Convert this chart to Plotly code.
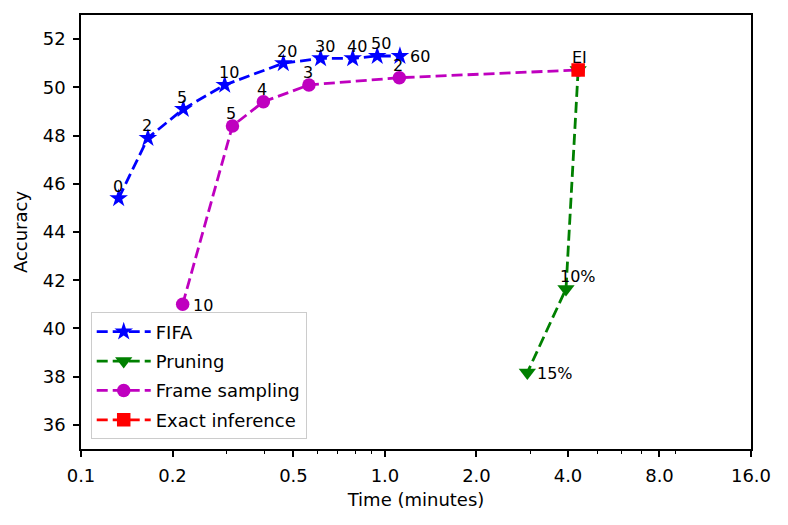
import numpy as np
import plotly.graph_objects as go

# FIFA: time (min) vs accuracy, labelled by setting
fifa_time = [0.133, 0.166, 0.217, 0.297, 0.463, 0.614, 0.783, 0.943, 1.12]
fifa_acc = [45.4, 47.9, 49.1, 50.1, 51.0, 51.2, 51.2, 51.3, 51.3]
fifa_labels = ["0", "2", "5", "10", "20", "30", "40", "50", "60"]

# frame sampling
frame_time = [0.216, 0.315, 0.398, 0.562, 1.115]
frame_acc = [41.0, 48.4, 49.4, 50.1, 50.4]
frame_labels = ["10", "5", "4", "3", "2"]

# pruning
prune_time = [3.94, 2.94]
prune_acc = [41.64, 38.17]
prune_labels = ["10%", "15%"]

# exact inference
ei_time = 4.32
ei_acc = 50.72

x_ticks = [0.1, 0.2, 0.5, 1.0, 2.0, 4.0, 8.0, 16.0]
x_ticktext = ["0.1", "0.2", "0.5", "1.0", "2.0", "4.0", "8.0", "16.0"]
x_minor = [0.3, 0.4, 0.6, 0.7, 0.8, 0.9, 3, 5, 6, 7, 9]
y_ticks = [36, 38, 40, 42, 44, 46, 48, 50, 52]

FONT = "DejaVu Sans"
dash = "11px,5px"
lw = 2.8

fig = go.Figure()

fig.add_trace(go.Scatter(
    x=fifa_time, y=fifa_acc, name="FIFA", mode="lines+markers",
    line=dict(color="#0000ff", width=lw, dash=dash),
    marker=dict(symbol="star", size=14, color="#0000ff"),
    legendgroup="a"))
fig.add_trace(go.Scatter(
    x=[ei_time] + prune_time, y=[ei_acc] + prune_acc, name="Pruning",
    mode="lines+markers",
    line=dict(color="#008000", width=lw, dash=dash),
    marker=dict(symbol="triangle-down", size=15, color="#008000"),
    legendgroup="b"))
fig.add_trace(go.Scatter(
    x=frame_time + [ei_time], y=frame_acc + [ei_acc], name="Frame sampling",
    mode="lines+markers",
    line=dict(color="#bf00bf", width=lw, dash=dash),
    marker=dict(symbol="circle", size=13.5, color="#bf00bf"),
    legendgroup="c"))
fig.add_trace(go.Scatter(
    x=[ei_time], y=[ei_acc], name="Exact inference", mode="lines+markers",
    line=dict(color="#ff0000", width=lw, dash=dash),
    marker=dict(symbol="square", size=13.5, color="#ff0000"),
    legendgroup="d"))


def label(x, y, text, where):
    if where == "above":
        xs, ys = -8, 12
    else:
        xs, ys = 8, -1
    fig.add_annotation(x=np.log10(x), y=y, text=text, showarrow=False,
                       xanchor="left", yanchor="middle", xshift=xs, yshift=ys,
                       font=dict(family=FONT, size=16, color="black"))


for i, (t, a, s) in enumerate(zip(fifa_time, fifa_acc, fifa_labels)):
    label(t, a, s, "right" if i == len(fifa_labels) - 1 else "above")
for i, (t, a, s) in enumerate(zip(frame_time, frame_acc, frame_labels)):
    label(t, a, s, "right" if i == 0 else "above")
label(prune_time[0], prune_acc[0], prune_labels[0], "above")
label(prune_time[1], prune_acc[1], prune_labels[1], "right")
label(ei_time, ei_acc, "EI", "above")

axis_common = dict(
    showline=True, linecolor="black", linewidth=1.5, mirror=True,
    ticks="outside", ticklen=6, tickwidth=1.5, tickcolor="black",
    showgrid=False, zeroline=False, automargin=False,
    tickfont=dict(family=FONT, size=18, color="black"),
)

fig.update_xaxes(
    type="log", range=[-1, np.log10(16)],
    tickvals=x_ticks, ticktext=x_ticktext,
    minor=dict(tickvals=x_minor, ticks="outside", ticklen=3.6,
               tickwidth=1.2, tickcolor="black", showgrid=False),
    title=dict(text="Time (minutes)", standoff=8,
               font=dict(family=FONT, size=18, color="black")),
    ticklabelstandoff=4,
    **axis_common)
fig.update_yaxes(
    range=[35, 53], tickvals=y_ticks,
    title=dict(text="Accuracy", standoff=10,
               font=dict(family=FONT, size=18, color="black")),
    ticklabelstandoff=4,
    **axis_common)

# page body adds an 8px offset, so the figure is a bit smaller than the window
fig.update_layout(
    width=772, height=509,
    margin=dict(l=73, r=29, t=7, b=68),
    paper_bgcolor="white", plot_bgcolor="white",
    font=dict(family=FONT, size=18, color="black"),
    legend=dict(x=0.0145, y=0.022, xanchor="left", yanchor="bottom",
                bgcolor="rgba(255,255,255,0.8)", bordercolor="#cccccc",
                borderwidth=1, itemwidth=54, tracegroupgap=3,
                traceorder="grouped",
                font=dict(family=FONT, size=18, color="black")),
)

fig.write_html("out.html")
